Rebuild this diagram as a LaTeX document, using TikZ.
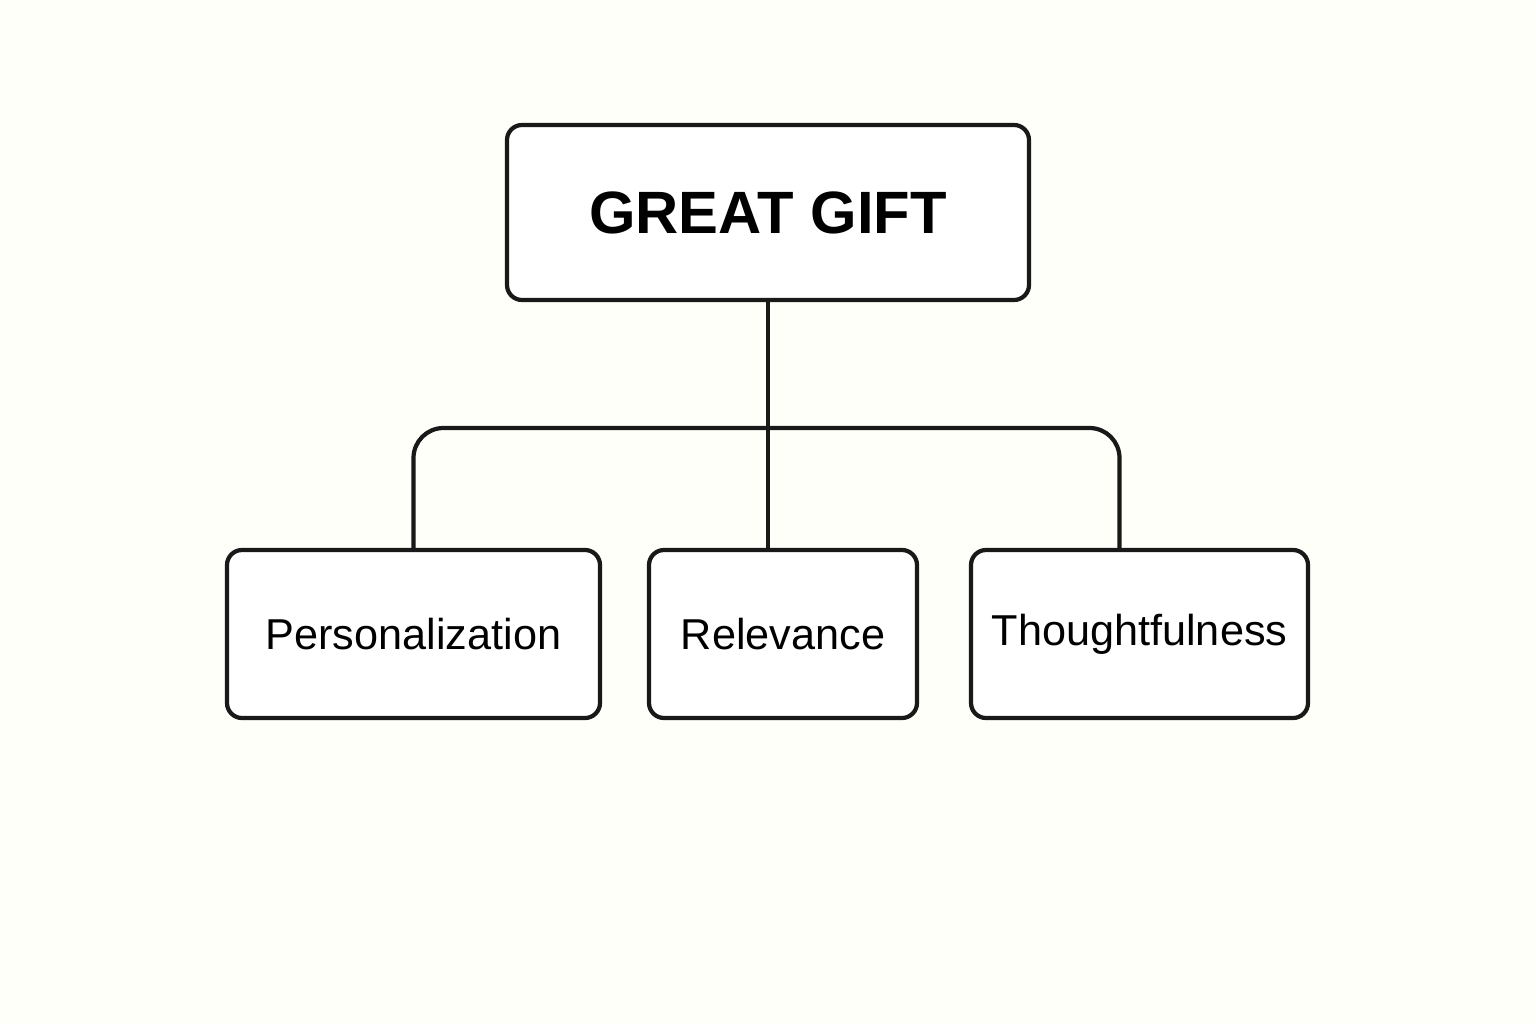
\documentclass[tikz,border=0pt]{standalone}
\usepackage{fontspec}
\setmainfont{Liberation Sans}
\tikzstyle{box}=[rectangle, draw=black!90, line width=1.2pt, rounded corners=0.15cm, fill=white, inner sep=0pt]
\tikzstyle{link}=[-, line width=1.2pt, draw=black!90]
\begin{document}
\begin{tikzpicture}
				\fill[white!98!yellow] (0,0) rectangle (15.36,10.24);
				\useasboundingbox (0,0) rectangle (15.36,10.24);
				
				%The root box
				\node[box, minimum width=5.22cm, minimum height=1.75cm, font=\fontsize{17}{20}\selectfont\bfseries] (gift) at (7.68,8.115) {GREAT GIFT};
				
				%The three leaf boxes
				\node[box, minimum width=3.73cm, minimum height=1.68cm, font=\fontsize{12.3}{15}\selectfont] (pers) at (4.135,3.90) {Personalization};
				\node[box, minimum width=2.68cm, minimum height=1.68cm, font=\fontsize{12.3}{15}\selectfont] (rel) at (7.83,3.90) {Relevance};
				\node[box, minimum width=3.37cm, minimum height=1.68cm, font=\fontsize{12.3}{15}\selectfont] (th) at (11.395,3.90) {Thoughtfulness};
				
				%The bar joining them
				\coordinate (bar) at (7.68,5.96);
				\coordinate (thtop) at ([xshift=-2mm]th.north);
				\draw[link] (gift.south) -- (gift.south |- rel.north);
				\draw[link, rounded corners=0.3cm] (pers.north) |- (bar) -| (thtop);
			\end{tikzpicture}
\end{document}
